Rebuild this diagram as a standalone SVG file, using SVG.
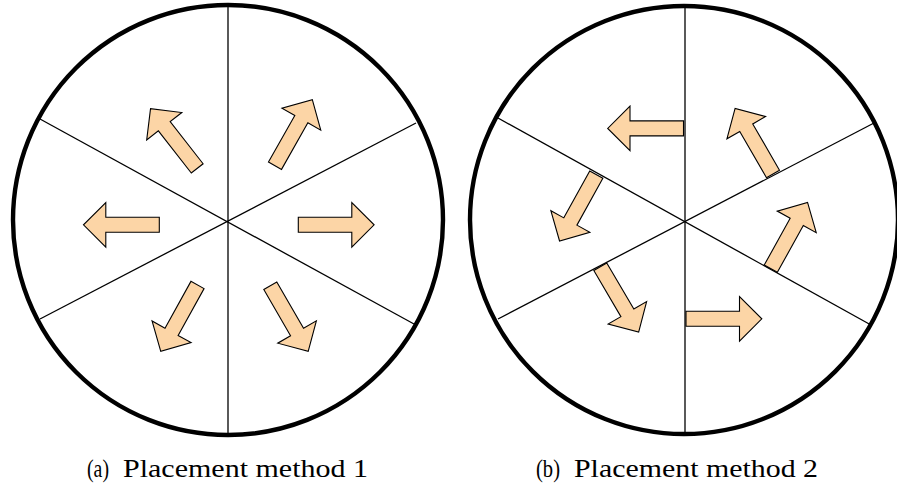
<svg xmlns="http://www.w3.org/2000/svg" xmlns:xlink="http://www.w3.org/1999/xlink" width="897" height="486" viewBox="0 0 897 486">
<style>
.rim{fill:none;stroke:#000;stroke-width:4.4}
.div{stroke:#000;stroke-width:1.3;fill:none}
.arr{fill:#FCD5A6;stroke:#000;stroke-width:1.1;stroke-linejoin:miter}
.cap{font-family:"Liberation Serif","Times New Roman",serif;font-size:25px;fill:#000}
</style>
<defs>
<polygon id="arrow" class="arr" points="0,-7.5 53.5,-7.5 53.5,-22.3 75.8,0 53.5,22.3 53.5,7.5 0,7.5"/>
</defs>
<rect width="897" height="486" fill="#fff"/>
<g id="diagram-a">
<g id="a-dividers">
<line class="div" x1="228" y1="5" x2="228" y2="435"/>
<line class="div" x1="40" y1="119" x2="414" y2="324"/>
<line class="div" x1="40" y1="319" x2="416" y2="123"/>
</g>
<circle class="rim" cx="228" cy="220" r="215"/>
<g id="a-arrows">
<use id="a-arrow-e" xlink:href="#arrow" transform="translate(298.3,224.8)"/>
<use id="a-arrow-w" xlink:href="#arrow" transform="translate(159.3,224.8) rotate(180)"/>
<use id="a-arrow-ne" xlink:href="#arrow" transform="translate(275,165.7) rotate(-60.5)"/>
<use id="a-arrow-nw" xlink:href="#arrow" transform="translate(197.2,168.4) rotate(-128)"/>
<use id="a-arrow-sw" xlink:href="#arrow" transform="translate(197.5,285) rotate(119)"/>
<use id="a-arrow-se" xlink:href="#arrow" transform="translate(270.3,285.7) rotate(60)"/>
</g>
</g>
<g id="diagram-b">
<g id="b-dividers">
<line class="div" x1="685" y1="6" x2="685" y2="434"/>
<line class="div" x1="498" y1="118" x2="871" y2="325"/>
<line class="div" x1="498" y1="319" x2="874" y2="123"/>
</g>
<circle class="rim" cx="684" cy="220" r="214"/>
<g id="b-arrows">
<use id="b-arrow-nw" xlink:href="#arrow" transform="translate(683.5,128.4) rotate(180)"/>
<use id="b-arrow-ne" xlink:href="#arrow" transform="translate(773,174) rotate(-120)"/>
<use id="b-arrow-e" xlink:href="#arrow" transform="translate(770.8,268.7) rotate(-61)"/>
<use id="b-arrow-se" xlink:href="#arrow" transform="translate(686,318.8)"/>
<use id="b-arrow-sw" xlink:href="#arrow" transform="translate(600.3,266.7) rotate(59.6)"/>
<use id="b-arrow-w" xlink:href="#arrow" transform="translate(596.3,174.7) rotate(119)"/>
</g>
</g>
<g id="captions">
<text id="caption-a" class="cap" y="477"><tspan x="87" textLength="22" lengthAdjust="spacingAndGlyphs">(a)</tspan><tspan x="123" textLength="245" lengthAdjust="spacingAndGlyphs">Placement method 1</tspan></text>
<text id="caption-b" class="cap" y="477"><tspan x="536" textLength="24" lengthAdjust="spacingAndGlyphs">(b)</tspan><tspan x="574" textLength="244" lengthAdjust="spacingAndGlyphs">Placement method 2</tspan></text>
</g>
</svg>
